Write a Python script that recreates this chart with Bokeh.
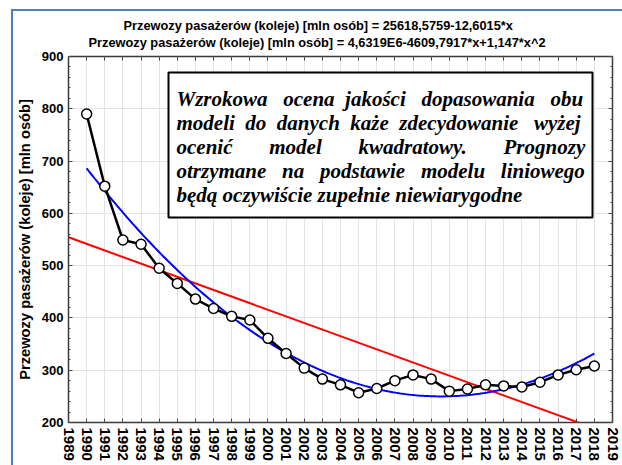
import numpy as np
from bokeh.plotting import figure
from bokeh.models import (FixedTicker, LinearAxis, Label, BoxAnnotation, Range1d, Title,
                          CustomJSTickFormatter)
from bokeh.embed import file_html
from bokeh.resources import INLINE

# ---- data ----
years = list(range(1990, 2019))
passengers = [790, 652, 549, 541, 495, 466, 436, 418, 403, 396, 361, 332, 304, 283,
              272, 257, 265, 280, 291, 283, 260, 264, 272, 270, 268, 277, 291, 301, 308]
tick_years = list(range(1989, 2020))
y_ticks = [200, 300, 400, 500, 600, 700, 800, 900]
y_minor = list(range(200, 901, 20))
title_lines = [
    "Przewozy pasażerów (koleje) [mln osób] = 25618,5759-12,6015*x",
    "Przewozy pasażerów (koleje) [mln osób] = 4,6319E6-4609,7917*x+1,147*x^2",
]
y_label = "Przewozy pasażerów (koleje) [mln osób]"
lin_intercept = 25618.5759
lin_slope = -12.6015
NB = "\u00a0"
note_lines = [
    "Wzrokowa" + NB * 3 + "ocena" + NB * 2 + "jakości" + NB * 3 + "dopasowania" + NB * 3 + "obu",
    NB.join(["modeli" + NB, "do" + NB, "danych" + NB, "każe" + NB, "zdecydowanie" + NB + NB, "wyżej"]),
    ("ocenić" + NB * 7 + "model" + NB * 7 + "kwadratowy." + NB * 7 + "Prognozy"),
    ("otrzymane" + NB * 3 + "na" + NB * 3 + "podstawie" + NB * 3 + "modelu" + NB * 3 + "liniowego"),
    "będą oczywiście zupełnie niewiarygodne",
]

SANS = "Liberation Sans"
SERIF = "Liberation Serif"

# frame placement in the picture (pixels)
FL, FR, FT, FB = 68, 612, 56, 422
X0, X1, Y0, Y1 = 1989, 2019, 200, 900
W, H = 622, 465


def xd(px):
    return X0 + (px - FL) * (X1 - X0) / (FR - FL)


def yd(py):
    return Y1 - (py - FT) * (Y1 - Y0) / (FB - FT)


p = figure(width=W, height=H, x_range=Range1d(X0, X1), y_range=Range1d(Y0, Y1),
           output_backend="svg", toolbar_location=None,
           min_border_left=FL, min_border_right=W - FR, min_border_top=FT,
           min_border_bottom=H - FB)
BLUE_FRAME = "#4f7fbf"
p.styles = {
    "background": (f"linear-gradient({BLUE_FRAME},{BLUE_FRAME}) 11px 9px / 2px calc(100% - 9px) no-repeat, "
                   f"linear-gradient({BLUE_FRAME},{BLUE_FRAME}) 11px 9px / calc(100% - 11px) 2px no-repeat, "
                   "white"),
}
p.background_fill_color = "white"
p.border_fill_alpha = 0
p.outline_line_color = "#3a3a3a"
p.outline_line_width = 1.5

# axes
xt = FixedTicker(ticks=tick_years)
yt = FixedTicker(ticks=y_ticks, minor_ticks=y_minor)
ax = p.xaxis[0]
ax.ticker = xt
ax.major_label_orientation = "vertical"
ay = p.yaxis[0]
ay.ticker = yt
ay.axis_label = y_label
for a in (ax, ay):
    a.major_label_text_font = SANS
    a.major_label_text_font_style = "bold"
    a.major_label_text_color = "black"
    a.major_tick_in = 4
    a.major_tick_out = 0
    a.minor_tick_in = 2
    a.minor_tick_out = 0
    a.axis_line_color = None
    a.major_tick_line_color = "#444444"
    a.minor_tick_line_color = "#444444"
ax.major_label_text_font_size = "15px"
ay.major_label_text_font_size = "13px"
ax.minor_tick_line_color = None
ax.major_label_standoff = 5
ay.major_label_standoff = 5
ay.axis_label_text_font = SANS
ay.axis_label_text_font_style = "bold"
ay.axis_label_text_font_size = "14.7px"
ay.axis_label_text_color = "black"
ay.axis_label_standoff = 6

blank = CustomJSTickFormatter(code="return ''")
for side, tk, minor in (("right", yt, True), ("above", xt, False)):
    a2 = LinearAxis(ticker=tk, formatter=blank, major_label_standoff=0,
                    major_tick_in=4, major_tick_out=0, minor_tick_in=2, minor_tick_out=0,
                    axis_line_color=None, major_tick_line_color="#444444",
                    minor_tick_line_color="#444444" if minor else None)
    p.add_layout(a2, side)

# invisible spacer between the frame and the title lines
p.add_layout(LinearAxis(ticker=FixedTicker(ticks=[X0]), formatter=blank, major_label_standoff=0,
                        major_tick_in=0, major_tick_out=7, minor_tick_in=0, minor_tick_out=0,
                        axis_line_color=None, major_tick_line_color="white",
                        minor_tick_line_color=None), "above")

# titles: inner line first, then outer line
p.add_layout(Title(text=title_lines[1], align="left", offset=20, text_font=SANS,
                   text_font_style="bold", text_font_size="12.8px", text_color="black",
                   standoff=0), "above")
p.add_layout(Title(text=title_lines[0], align="left", offset=55, text_font=SANS,
                   text_font_style="bold", text_font_size="12.8px", text_color="black",
                   standoff=0), "above")

# grid
p.xgrid.ticker = xt
p.ygrid.ticker = yt
p.xgrid.grid_line_color = "#e4e4e4"
p.ygrid.grid_line_color = "#e4e4e4"

# fitted models
lx = np.array([X0, X1], dtype=float)
p.line(lx, lin_intercept + lin_slope * lx, line_color="red", line_width=2)

yr = np.array(years, dtype=float)
coef = np.polyfit(yr - 2004, np.array(passengers, dtype=float), 2)
qx = np.linspace(years[0], years[-1], 200)
p.line(qx, np.polyval(coef, qx - 2004), line_color="blue", line_width=2)

# observed data
p.line(years, passengers, line_color="black", line_width=2.5)
p.scatter(years, passengers, size=10, marker="circle", fill_color="white",
          line_color="black", line_width=1.5)

# note box
p.add_layout(BoxAnnotation(left=xd(168), right=xd(592), top=yd(72), bottom=yd(217),
                           fill_color="white", fill_alpha=1.0, line_color="black",
                           line_alpha=1.0, line_width=2, level="annotation"))
for i, txt in enumerate(note_lines):
    p.add_layout(Label(x=xd(176), y=yd(98 + 24 * i), text=txt, text_font=SERIF,
                       text_font_style="bold italic", text_font_size="21px",
                       text_color="black", text_baseline="middle", text_align="left"))

open("out.html", "w").write(file_html(p, INLINE))
